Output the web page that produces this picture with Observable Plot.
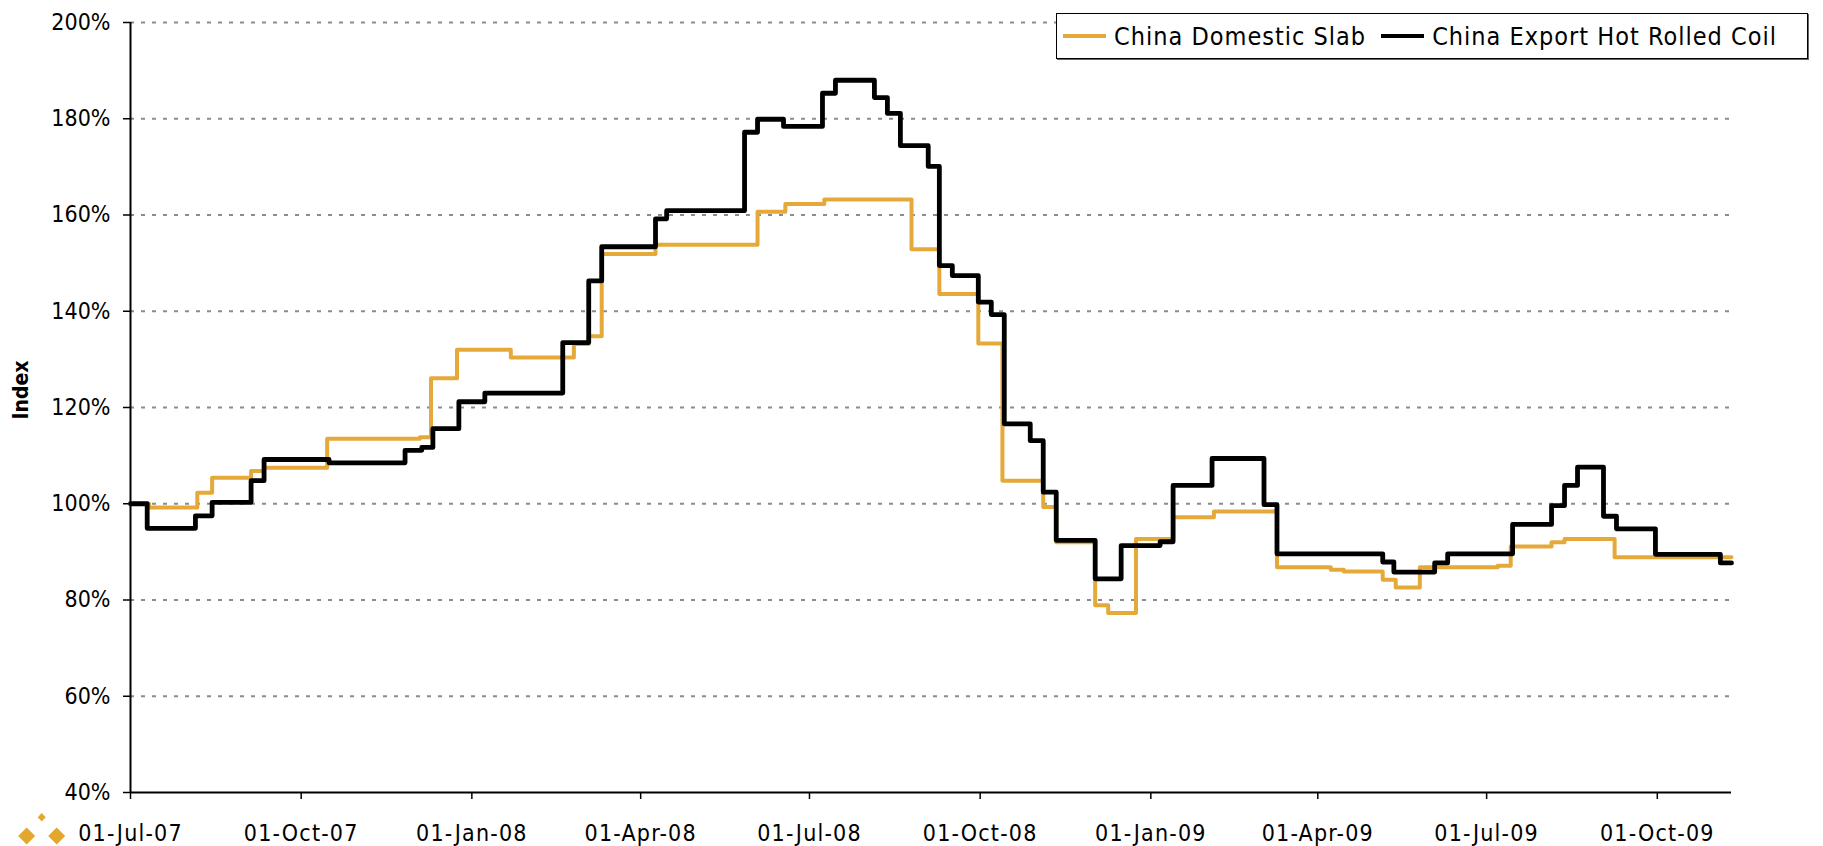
<!DOCTYPE html>
<html>
<head>
<meta charset="utf-8">
<script src="https://cdn.jsdelivr.net/npm/d3@7"></script>
<script src="https://cdn.jsdelivr.net/npm/@observablehq/plot@0.6"></script>
<style>
  html, body { margin: 0; padding: 0; background: #fff; overflow: hidden; }
  #wrap { position: relative; width: 1823px; height: 846px; }
  #legend {
    position: absolute; left: 1056px; top: 13px; width: 752px; height: 46px;
    box-sizing: border-box; border: 1.5px solid #000; background: #fff;
    box-shadow: 1px 1px 0 #666;
    display: flex; align-items: center; padding-left: 6px;
    font-family: "DejaVu Sans Condensed", "DejaVu Sans", sans-serif; font-stretch: condensed;
    font-size: 25px; letter-spacing: 1px; color: #000; white-space: nowrap;
  }
  #legend .sw { display: inline-block; width: 43px; height: 4px; margin-right: 8px; }
  #legend .item { display: inline-flex; align-items: center; margin-right: 15px; }
  #logo { position: absolute; left: 0; top: 800px; }
</style>
</head>
<body>
<div id="wrap">
  <div id="chart"></div>
  <div id="legend"></div>
  <svg id="logo" width="80" height="46" viewBox="0 0 80 46">
    <polygon points="41.7,13 45.7,17.3 41.7,21.6 37.7,17.3" fill="#E3A82B"/>
    <polygon points="26.7,27.5 35.2,36 26.7,44.5 18.2,36" fill="#E3A82B"/>
    <polygon points="56.7,27.5 65.2,36 56.7,44.5 48.2,36" fill="#E3A82B"/>
  </svg>
</div>
<script>
// ---- Data ----
const seriesNames = ["China Domestic Slab", "China Export Hot Rolled Coil"];
const seriesColors = ["#E5A93A", "#000000"];

const slabDates = [
  "2007-07-01","2007-07-11","2007-08-06","2007-08-14","2007-09-04","2007-09-11","2007-10-15",
  "2007-12-04","2007-12-10","2007-12-24","2008-01-22","2008-02-25","2008-03-04","2008-03-11",
  "2008-04-09","2008-06-03","2008-06-18","2008-07-09","2008-08-25","2008-09-09","2008-09-30",
  "2008-10-13","2008-11-04","2008-11-11","2008-12-02","2008-12-09","2008-12-24","2009-01-13",
  "2009-02-04","2009-03-10","2009-04-08","2009-04-15","2009-05-06","2009-05-13","2009-05-26",
  "2009-07-07","2009-07-14","2009-08-05","2009-08-12","2009-09-08","2009-11-10"
];
const slabValues = [
  100, 99.2, 102.3, 105.4, 106.8, 107.5, 113.5,
  113.8, 126.1, 132.0, 130.4, 133.2, 134.8, 151.9,
  153.8, 160.7, 162.3, 163.2, 152.9, 143.6, 133.3,
  104.8, 99.3, 92.0, 78.9, 77.3, 92.7, 97.2,
  98.4, 86.8, 86.3, 85.9, 84.2, 82.6, 86.8,
  87.1, 91.1, 92.0, 92.7, 88.9, 88.9
];

const hrcDates = [
  "2007-07-01","2007-07-10","2007-08-05","2007-08-14","2007-09-04","2007-09-11","2007-10-16",
  "2007-11-26","2007-12-05","2007-12-11","2007-12-25","2008-01-08","2008-02-19","2008-03-04",
  "2008-03-11","2008-04-09","2008-04-15","2008-05-27","2008-06-03","2008-06-17","2008-07-08",
  "2008-07-15","2008-08-05","2008-08-12","2008-08-19","2008-09-03","2008-09-09","2008-09-16",
  "2008-09-30","2008-10-07","2008-10-14","2008-10-28","2008-11-04","2008-11-11","2008-12-02",
  "2008-12-16","2009-01-06","2009-01-13","2009-02-03","2009-03-03","2009-03-10","2009-05-06",
  "2009-05-12","2009-06-03","2009-06-10","2009-07-15","2009-08-05","2009-08-12","2009-08-19",
  "2009-09-02","2009-09-09","2009-09-30","2009-11-04","2009-11-10"
];
const hrcValues = [
  100, 94.9, 97.5, 100.3, 104.8, 109.2, 108.5,
  111.1, 111.7, 115.6, 121.2, 123.0, 133.5, 146.3,
  153.4, 159.2, 160.9, 177.2, 179.9, 178.4, 185.3,
  188.0, 184.4, 181.1, 174.4, 170.1, 149.5, 147.4,
  141.9, 139.3, 116.6, 113.1, 102.4, 92.4, 84.4,
  91.3, 92.1, 103.8, 109.4, 99.8, 89.6, 87.9,
  85.8, 87.7, 89.6, 95.7, 99.6, 103.8, 107.6,
  97.4, 94.8, 89.5, 87.7, 87.7
];

const xDomain = ["2007-07-01", "2009-11-10"];
const xTickDates = ["2007-07-01","2007-10-01","2008-01-01","2008-04-01","2008-07-01",
                    "2008-10-01","2009-01-01","2009-04-01","2009-07-01","2009-10-01"];
const xTickLabels = ["01-Jul-07","01-Oct-07","01-Jan-08","01-Apr-08","01-Jul-08",
                     "01-Oct-08","01-Jan-09","01-Apr-09","01-Jul-09","01-Oct-09"];
const yTicks = [40, 60, 80, 100, 120, 140, 160, 180, 200];
const yTickLabels = ["40%","60%","80%","100%","120%","140%","160%","180%","200%"];
const yLabel = "Index";

// ---- Build ----
const parse = d3.utcParse("%Y-%m-%d");
const slab = slabDates.map((d, i) => ({date: parse(d), value: slabValues[i]}));
const hrc = hrcDates.map((d, i) => ({date: parse(d), value: hrcValues[i]}));
const xLabelByTime = new Map(xTickDates.map((d, i) => [+parse(d), xTickLabels[i]]));
const yLabelByValue = new Map(yTicks.map((v, i) => [v, yTickLabels[i]]));
const font = '"DejaVu Sans Condensed", "DejaVu Sans", sans-serif';

const chart = Plot.plot({
  width: 1823,
  height: 846,
  marginLeft: 130,
  marginRight: 92,
  marginTop: 22,
  marginBottom: 54,
  style: {fontFamily: font, fontSize: "23px", color: "#000", background: "#fff", fontStretch: "condensed"},
  x: {type: "utc", domain: xDomain.map(parse)},
  y: {domain: [yTicks[0], yTicks[yTicks.length - 1]]},
  marks: [
    Plot.gridY(yTicks.slice(1), {stroke: "#8c8c8c", strokeOpacity: 1, strokeWidth: 2, strokeDasharray: "4 7"}),
    Plot.ruleY([yTicks[0]], {stroke: "#000", strokeWidth: 2}),
    Plot.ruleX([parse(xDomain[0])], {stroke: "#000", strokeWidth: 2}),
    Plot.axisY({ticks: yTicks, tickFormat: v => yLabelByValue.get(v), tickSize: 7, tickPadding: 13,
                strokeWidth: 1.5, label: null, fontSize: 23}),
    Plot.axisX({ticks: xTickDates.map(parse), tickFormat: d => xLabelByTime.get(+d), tickSize: 7,
                tickPadding: 25, strokeWidth: 1.5, label: null, fontSize: 23}),
    Plot.text([yLabel], {frameAnchor: "left", dx: -109, dy: 12, rotate: -90, text: d => d,
                         fontWeight: "bold", fontSize: 21, fill: "#000"}),
    Plot.line(slab, {x: "date", y: "value", stroke: seriesColors[0], strokeWidth: 4, curve: "step-after"}),
    Plot.line(hrc, {x: "date", y: "value", stroke: seriesColors[1], strokeWidth: 4.8, curve: "step-after"})
  ]
});
document.getElementById("chart").appendChild(chart);

// letter spacing on x tick labels to match the reference's spaced lettering
d3.select(chart).selectAll('g[aria-label="x-axis tick label"] text').style("letter-spacing", "1.2px");

// legend
const legend = d3.select("#legend");
seriesNames.forEach((name, i) => {
  const item = legend.append("span").attr("class", "item");
  item.append("span").attr("class", "sw").style("background", seriesColors[i]);
  item.append("span").text(name);
});
</script>
</body>
</html>
